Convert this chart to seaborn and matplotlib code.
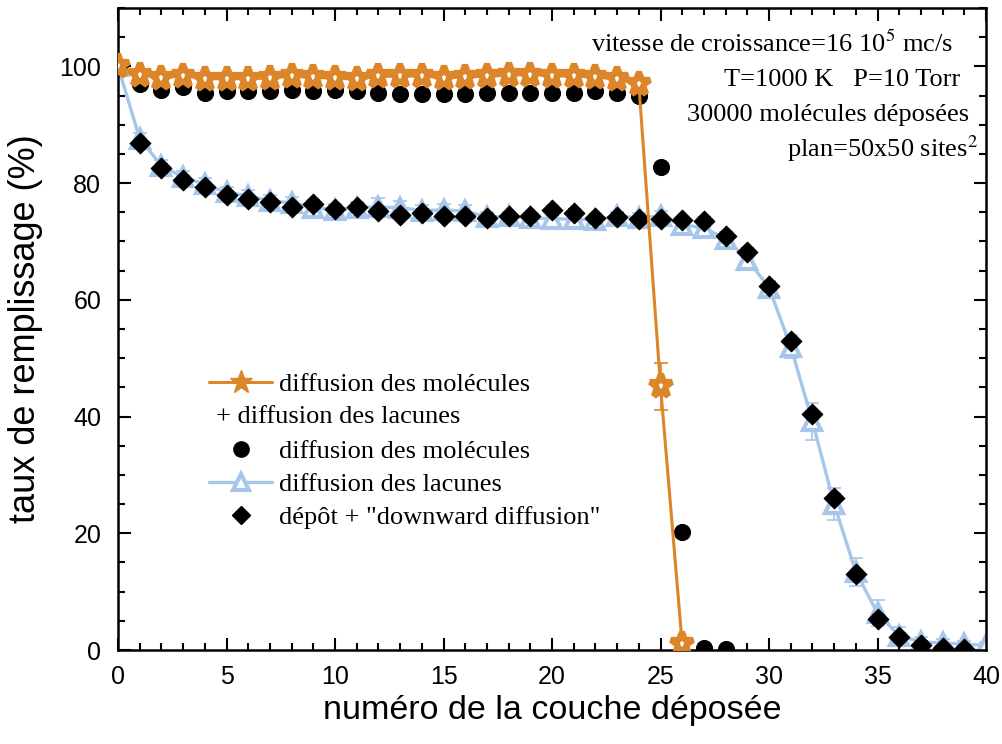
import matplotlib
matplotlib.use("Agg")
import matplotlib.pyplot as plt
from matplotlib.lines import Line2D
from matplotlib.ticker import MultipleLocator
import seaborn as sns

# diffusion des molecules + diffusion des lacunes (orange stars)
layers_ml = list(range(27))
fill_ml = [100, 98.6, 98.0, 98.4, 97.9, 97.9, 97.9, 98.0, 98.3, 98.1, 98.0, 97.8, 98.3,
           98.3, 98.4, 98.0, 98.2, 98.3, 98.5, 98.6, 98.4, 98.3, 98.2, 97.8, 97.0, 45.2, 1.0]
err_ml = [0.3] * 25 + [4.0, 0.5]

# diffusion des molecules (black circles)
layers_m = list(range(29))
fill_m = [100, 96.9, 95.9, 96.5, 95.5, 95.8, 95.8, 95.8, 95.9, 95.8, 96.0, 95.7, 95.4,
          95.2, 95.3, 95.3, 95.2, 95.5, 95.4, 95.4, 95.4, 95.5, 95.8, 95.5, 94.9, 82.7,
          20.2, 0.4, 0.2]

# diffusion des lacunes (blue triangles)
layers_l = list(range(41))
fill_l = [100, 87.6, 83.0, 81.0, 79.8, 78.4, 77.8, 77.0, 76.6, 75.8, 75.4, 75.8, 75.9,
          75.8, 75.3, 75.4, 75.2, 74.2, 74.3, 74.0, 73.9, 73.8, 73.7, 74.3, 74.1, 74.3,
          72.9, 72.3, 70.5, 66.9, 62.1, 52.0, 39.2, 25.0, 13.4, 6.3, 2.4, 1.4, 1.2, 1.0, 0.8]
err_l = [0.5, 1.0, 1.0, 1.0, 1.0, 1.0, 1.0, 1.0, 1.0, 1.0, 1.0, 1.0, 1.6, 1.2, 1.0, 1.0,
         1.0, 0.8, 0.8, 0.8, 0.8, 0.8, 0.8, 0.8, 0.8, 1.0, 1.0, 1.0, 1.2, 1.2, 1.2, 2.0,
         3.2, 2.8, 2.4, 2.2, 1.5, 0.8, 0.6, 0.5, 0.5]

# depot + "downward diffusion" (black diamonds)
layers_d = list(range(40))
fill_d = [100, 86.9, 82.6, 80.6, 79.3, 77.9, 77.3, 76.7, 75.9, 76.5, 75.5, 75.9, 75.2,
          74.6, 74.9, 74.3, 74.3, 74.0, 74.3, 74.3, 75.4, 74.9, 74.0, 74.2, 73.8, 73.8,
          73.6, 73.5, 71.0, 68.2, 62.4, 52.9, 40.4, 26.1, 13.0, 5.3, 2.2, 0.9, 0.3, 0.2]
err_d = [0.8] * 40

orange = "#DD8529"
blue = "#A6C6EA"

sns.set_style("ticks")
plt.rcParams["font.family"] = ["Liberation Sans", "DejaVu Sans"]
plt.rcParams["mathtext.fontset"] = "stix"
plt.rcParams["text.color"] = "black"
plt.rcParams["axes.labelcolor"] = "black"

fig = plt.figure(figsize=(10.02, 7.44), dpi=100)
ax = fig.add_axes([118 / 1002, 1 - 650 / 744, 868 / 1002, 642 / 744])

# blue: diffusion des lacunes
ax.errorbar(layers_l, fill_l, yerr=err_l, fmt="none", ecolor=blue, elinewidth=1.2,
            capsize=5, capthick=1.2, zorder=2)
sns.lineplot(x=layers_l, y=fill_l, color=blue, lw=2.4, marker="^", ms=13,
             markerfacecolor="white", markeredgecolor=blue, markeredgewidth=3,
             ax=ax, zorder=2)

# black diamonds
ax.errorbar(layers_d, fill_d, yerr=err_d, fmt="none", ecolor="black", elinewidth=0.8,
            capsize=4, capthick=0.8, zorder=3)
sns.scatterplot(x=layers_d, y=fill_d, marker="D", s=110, color="black",
                edgecolor="black", ax=ax, zorder=3)

# black circles
sns.scatterplot(x=layers_m, y=fill_m, marker="o", s=130, color="black",
                edgecolor="black", ax=ax, zorder=3)

# orange: molecules + lacunes
ax.errorbar(layers_ml, fill_ml, yerr=err_ml, fmt="none", ecolor=orange, elinewidth=1.2,
            capsize=5, capthick=1.2, zorder=4)
sns.lineplot(x=layers_ml, y=fill_ml, color=orange, lw=2.2, marker="*", ms=17,
             markerfacecolor="white", markeredgecolor=orange, markeredgewidth=4.5,
             ax=ax, zorder=4)

ax.set_xlim(0, 40)
ax.set_ylim(0, 110)
ax.xaxis.set_major_locator(MultipleLocator(5))
ax.xaxis.set_minor_locator(MultipleLocator(1))
ax.yaxis.set_major_locator(MultipleLocator(20))
ax.yaxis.set_minor_locator(MultipleLocator(5))
ax.tick_params(which="both", direction="in", top=True, right=True, width=1.5,
               labelsize=18, colors="black", labelcolor="black")
ax.tick_params(which="major", length=9)
ax.tick_params(which="minor", length=5)
ax.tick_params(axis="x", pad=11)
ax.tick_params(axis="y", pad=12)
for sp in ax.spines.values():
    sp.set_linewidth(1.8)
    sp.set_color("black")

ax.set_xlabel("numéro de la couche déposée", fontsize=24.5, labelpad=4)
ax.set_ylabel("taux de remplissage (%)", fontsize=26, labelpad=12)

serif = ["Liberation Serif", "DejaVu Serif"]
notes = [
    ("vitesse de croissance=16 10$^{5}$ mc/s", 953, 52),
    ("T=1000 K   P=10 Torr", 960, 86),
    ("30000 molécules déposées", 969, 121),
    ("plan=50x50 sites$^{2}$", 978, 157),
]
for txt, xp, yp in notes:
    fig.text(xp / 1002, 1 - yp / 744, txt, ha="right", va="baseline",
             fontsize=19, family=serif, color="black")

handles = [
    Line2D([], [], color=orange, lw=2.2, marker="*", ms=17, mfc=orange,
           mec=orange, mew=1),
    Line2D([], [], ls="none"),
    Line2D([], [], ls="none", marker="o", ms=11, color="black"),
    Line2D([], [], color=blue, lw=2.4, marker="^", ms=12, mfc="white",
           mec=blue, mew=3),
    Line2D([], [], ls="none", marker="D", ms=9, color="black"),
]
labels = ["diffusion des molécules", " ", "diffusion des molécules",
          "diffusion des lacunes", 'dépôt + "downward diffusion"']
leg = ax.legend(handles, labels, loc="upper left",
                bbox_to_anchor=(209 / 1002, 1 - 373 / 744),
                bbox_transform=fig.transFigure, frameon=False,
                prop={"family": serif, "size": 19}, handlelength=2.4,
                handletextpad=0.27, labelspacing=0.37, borderpad=0, borderaxespad=0)
for t in leg.get_texts():
    t.set_color("black")
fig.text(216 / 1002, 1 - 423 / 744, "+ diffusion des lacunes", ha="left",
         va="baseline", fontsize=19, family=serif, color="black")

fig.savefig("out.png", dpi=100)
